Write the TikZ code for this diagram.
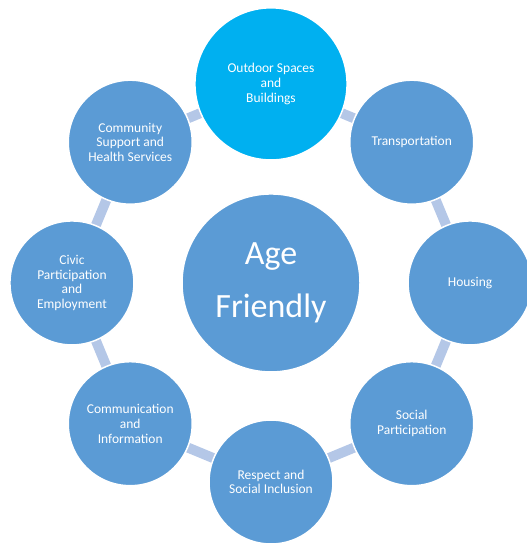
\documentclass[tikz,border=0pt]{standalone}
\usepackage{fontspec}
\setmainfont{Carlito}
\usetikzlibrary{backgrounds}
\definecolor{circblue}{HTML}{5B9BD5}
\definecolor{topblue}{HTML}{00B0F0}
\definecolor{linkblue}{HTML}{B4C7E7}
\begin{document}
\begin{tikzpicture}
	\tikzstyle{topic}=[circle,fill=circblue,draw=white,line width=1.5pt,minimum size=4.36cm,inner sep=0pt,text=white,align=center,font=\fontsize{13.5pt}{14.7pt}\selectfont]
	\tikzstyle{link}=[draw=linkblue,line width=10pt]
	\useasboundingbox (-9.53,-9.18) rectangle (9.0,9.95);

	\node[topic,minimum size=6.26cm,font=\fontsize{34pt}{53pt}\selectfont] (AF) at (0,0) {Age\\Friendly};

	\node[topic,fill=topblue,minimum size=5.35cm] (OS) at (90:7) {Outdoor Spaces\\and\\Buildings};
	\node[topic] (TR) at (45:7) {Transportation};
	\node[topic] (HO) at (0:7) {Housing};
	\node[topic] (SP) at (-45:7) {Social\\Participation};
	\node[topic] (RS) at (-90:7) {Respect and\\Social Inclusion};
	\node[topic] (CI) at (-135:7) {Communication\\and\\Information};
	\node[topic] (CE) at (180:7) {Civic\\Participation\\and\\Employment};
	\node[topic] (CS) at (135:7) {Community\\Support and\\Health Services};

	\begin{scope}[on background layer]
		\foreach \a/\b in {OS/TR,TR/HO,HO/SP,SP/RS,RS/CI,CI/CE,CE/CS,CS/OS}
			\path[link] (\a.center) -- (\b.center);
	\end{scope}
\end{tikzpicture}
\end{document}
